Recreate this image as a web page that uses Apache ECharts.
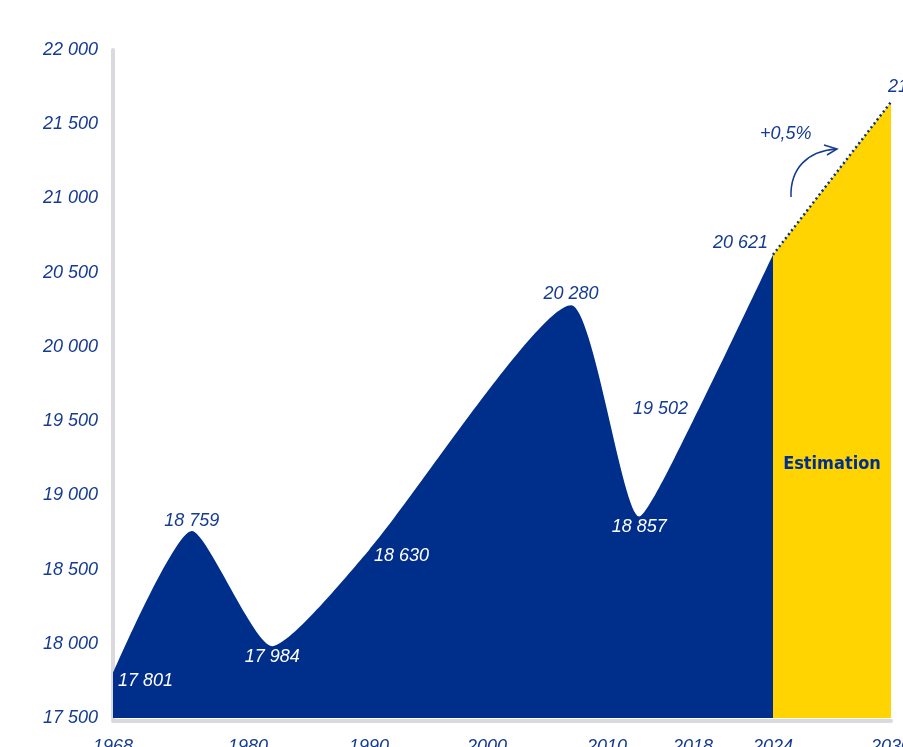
<!DOCTYPE html>
<html>
<head>
    <meta charset="utf-8" />
    <title>Population 1968 - 2030</title>
    <script src="https://cdn.jsdelivr.net/npm/echarts@6/dist/echarts.min.js"></script>
    <style>
        html, body { margin: 0; padding: 0; background: #ffffff; }
    </style>
</head>
<body>
<div id="main" style="width: 903px;height:747px;"></div>
<script type="text/javascript">
    // recensements
    var years = [1968, 1975, 1982, 1990, 2007, 2013, 2018, 2024];
    var population = [17801, 18759, 17984, 18630, 20280, 18857, 19502, 20621];
    // estimation
    var estYears = [2024, 2030];
    var estimate = [20621, 21650];
    // axe des années (échelle non régulière)
    var tickYears = [1968, 1980, 1990, 2000, 2010, 2018, 2024, 2030];
    var tickPos = [0, 135, 256, 374, 494, 580, 660, 778];

    var BLUE = '#002f8b';
    var TEXT = '#163b92';
    var YELLOW = '#ffd400';

    function yearToPos(y) {
        for (var i = 0; i < tickYears.length - 1; i++) {
            if (y <= tickYears[i + 1]) {
                var t = (y - tickYears[i]) / (tickYears[i + 1] - tickYears[i]);
                return tickPos[i] + t * (tickPos[i + 1] - tickPos[i]);
            }
        }
        return tickPos[tickPos.length - 1];
    }
    function fmt(v) {
        return String(Math.round(v)).replace(/\B(?=(\d{3})+(?!\d))/g, ' ');
    }

    var handFont = {fontFamily: 'Liberation Sans', fontStyle: 'italic', fontSize: 18};

    // placement des étiquettes
    var labelCfg = [
        {position: 'right', distance: 5, offset: [0, 8], color: '#ffffff'},
        {position: 'top', distance: 1, color: TEXT},
        {position: 'bottom', distance: 2, color: '#ffffff'},
        {position: 'right', distance: 5, offset: [0, 6], color: '#ffffff'},
        {position: 'top', distance: 2, color: TEXT},
        {position: 'bottom', distance: 1, color: '#ffffff'},
        {position: 'left', distance: 5, offset: [0, -12], color: TEXT},
        {position: 'left', distance: 5, offset: [0, -12], color: TEXT}
    ];

    var mainData = years.map(function (y, i) {
        return {
            value: [yearToPos(y), population[i]],
            label: Object.assign({show: true, formatter: function (p) { return fmt(p.value[1]); }}, handFont, labelCfg[i])
        };
    });
    var estData = estYears.map(function (y, i) {
        var d = {value: [yearToPos(y), estimate[i]]};
        if (i === estYears.length - 1) {
            d.label = Object.assign({show: true, position: 'right', distance: 5, offset: [-8, -15], color: TEXT,
                formatter: function (p) { return fmt(p.value[1]); }}, handFont);
        }
        return d;
    });

    var myChart = echarts.init(document.getElementById('main'));
    var option = {
        backgroundColor: '#ffffff',
        animation: false,
        grid: {left: 113, right: 12, top: 50, bottom: 29, containLabel: false, outerBoundsMode: 'none'},
        xAxis: {
            type: 'value',
            min: 0,
            max: tickPos[tickPos.length - 1],
            offset: 3,
            splitLine: {show: false},
            axisTick: {show: false},
            axisLine: {show: true, lineStyle: {color: '#d9d9de', width: 4}},
            axisLabel: Object.assign({
                customValues: tickPos,
                margin: 17,
                color: TEXT,
                formatter: function (v) {
                    var i = tickPos.indexOf(v);
                    return i >= 0 ? String(tickYears[i]) : '';
                }
            }, handFont)
        },
        yAxis: {
            type: 'value',
            min: 17500,
            max: 22000,
            interval: 500,
            offset: 3,
            splitLine: {show: false},
            axisTick: {show: false},
            axisLine: {show: true, lineStyle: {color: '#d9d9de', width: 4}},
            axisLabel: Object.assign({margin: 12, color: TEXT, formatter: fmt}, handFont)
        },
        series: [
            {
                name: 'Population',
                type: 'line',
                data: mainData,
                smooth: 0.2,
                symbol: 'circle',
                symbolSize: 0,
                lineStyle: {width: 0},
                itemStyle: {color: BLUE},
                areaStyle: {color: BLUE, opacity: 1},
                z: 3
            },
            {
                name: 'Estimation',
                type: 'line',
                data: estData,
                symbol: 'circle',
                symbolSize: 0,
                lineStyle: {color: BLUE, width: 2.5, type: [2, 3]},
                itemStyle: {color: BLUE},
                areaStyle: {color: YELLOW, opacity: 1},
                z: 2,
                markPoint: {
                    symbol: 'circle',
                    symbolSize: 0,
                    data: [{
                        coord: [yearToPos(2027), 19210],
                        label: {
                            show: true,
                            position: 'inside',
                            formatter: 'Estimation',
                            color: BLUE,
                            fontFamily: '"DejaVu Sans Condensed", "Liberation Sans Narrow", "Liberation Sans", sans-serif',
                            fontWeight: 'bold',
                            fontSize: 18
                        }
                    }]
                }
            }
        ],
        graphic: [
            {
                type: 'text',
                left: 760,
                top: 125,
                style: {text: '+0,5%', fill: TEXT, font: 'italic 18px "Liberation Sans"'}
            },
            {
                type: 'bezierCurve',
                shape: {x1: 791, y1: 197, x2: 836, y2: 149, cpx1: 790, cpy1: 168, cpx2: 808, cpy2: 151},
                style: {stroke: TEXT, lineWidth: 1.5, fill: null}
            },
            {
                type: 'polyline',
                shape: {points: [[824, 145], [837, 149], [827, 155]]},
                style: {stroke: TEXT, lineWidth: 1.5, fill: null}
            }
        ]
    };
    myChart.setOption(option);
</script>
</body>
</html>
